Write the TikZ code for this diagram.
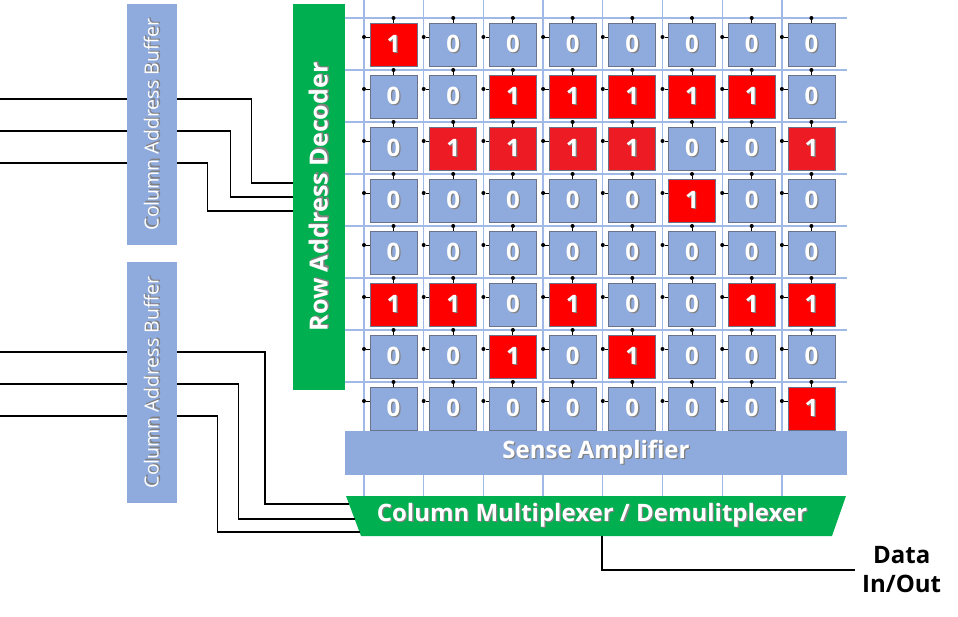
\documentclass[tikz,border=0pt]{standalone}
\usepackage{fontspec}
\setmainfont{Open Sans}
\usetikzlibrary{positioning, calc}
\definecolor{cellblue}{RGB}{143,170,220}
\definecolor{gridblue}{RGB}{160,185,230}
\definecolor{decgreen}{RGB}{0,176,80}
\definecolor{rim}{RGB}{105,115,140}
\colorlet{v0}{cellblue}
\definecolor{v1}{RGB}{255,0,0}
\definecolor{v2}{RGB}{237,28,36}
% white text with a soft dark drop shadow
\newcommand\sh[1]{\makebox[0pt][l]{\hspace{1.3pt}\raisebox{-1.3pt}{\textcolor{black!50}{#1}}}#1}

\begin{document}
\begin{tikzpicture}[x=1pt, y=-1pt, >=latex,
    c/.style={draw=rim, line width=0.7pt, minimum width=47pt, minimum height=43pt,
        inner sep=0pt, text=white, font=\fontsize{24}{24}\selectfont\bfseries},
    dot/.style={circle, fill=black, inner sep=0pt, minimum size=4pt},
    buf/.style={fill=cellblue, minimum width=50pt, minimum height=241pt, inner sep=0pt,
        text=white, font=\fontsize{19.5}{19.5}\selectfont},
    dec/.style={fill=decgreen, minimum width=52pt, minimum height=386pt, inner sep=0pt,
        text=white, font=\fontsize{25}{25}\selectfont\bfseries},
    wire/.style={line width=1.2pt}]
    \useasboundingbox (0,0) rectangle (958,617);

    % grid of word and bit lines
    \foreach \i in {0,...,7}
        \draw[gridblue, line width=1.3pt] ({364+59.7*\i},0) -- ({364+59.7*\i},496);
    \foreach \j in {0,...,7}
        \draw[gridblue, line width=1.3pt] (345,{18+52*\j}) -- (847,{18+52*\j});

    % memory cells
    \foreach \row [count=\j from 0] in {{1,0,0,0,0,0,0,0},{0,0,1,1,1,1,1,0},
            {0,2,2,2,2,0,0,2},{0,0,0,0,0,1,0,0},{0,0,0,0,0,0,0,0},
            {1,1,0,1,0,0,1,1},{0,0,1,0,1,0,0,0},{0,0,0,0,0,0,0,1}}
        \foreach \v [count=\i from 0] in \row {
            \pgfmathtruncatemacro\bit{min(\v,1)}
            \node[c, fill=v\v] (m-\i-\j) at ({364+59.7*\i+29.5},{18+52*\j+26.5})
                {\sh{\bit}};
            \node[dot] (t-\i-\j) at ({364+59.7*\i+29.5},{18+52*\j}) {};
            \node[dot] (l-\i-\j) at ({364+59.7*\i},{18+52*\j+19}) {};
            \draw[line width=0.9pt] (t-\i-\j) -- (m-\i-\j.north);
            \draw[line width=0.9pt] (l-\i-\j) -- (l-\i-\j -| m-\i-\j.west);
        }

    \node[fill=cellblue, minimum width=502pt, minimum height=44pt, inner sep=0pt,
        text=white, font=\fontsize{24}{24}\selectfont\bfseries] (sa) at (596,453)
        {\sh{Sense\ Amplifier}};

    % column multiplexer
    \coordinate (mtl) at (346,496);
    \coordinate (mtr) at (846,496);
    \coordinate (mbr) at (832,536);
    \coordinate (mbl) at (361,536);
    \fill[decgreen] (mtl) -- (mtr) -- (mbr) -- (mbl) -- cycle;
    \node[text=white, font=\fontsize{24}{24}\selectfont\bfseries] (mux) at (592,516)
        {\sh{Column\ Multiplexer / Demulitplexer}};
    \coordinate (m1) at ($(mtl)!0.2!(mbl)$);
    \coordinate (m2) at ($(mtl)!0.575!(mbl)$);
    \coordinate (m3) at ($(mtl)!0.9!(mbl)$);
    \coordinate (mo) at (602,536);

    % address inputs
    \coordinate (a1) at (0,99);
    \coordinate (a2) at (0,131);
    \coordinate (a3) at (0,163);
    \coordinate (b1) at (0,352);
    \coordinate (b2) at (0,384);
    \coordinate (b3) at (0,416);

    \node[dec] (rad) at (319,197) {\rotatebox{90}{\sh{Row\ Address\ Decoder}}};
    \coordinate (d1) at ($(rad.west)+(0,-14)$);
    \coordinate (d2) at (rad.west);
    \coordinate (d3) at ($(rad.west)+(0,14)$);

    \draw[wire] (a1) -| ([xshift=-41pt]d1) -- (d1);
    \draw[wire] (a2) -| ([xshift=-62pt]d2) -- (d2);
    \draw[wire] (a3) -| ([xshift=-85pt]d3) -- (d3);
    \draw[wire] (b1) -| ([xshift=-84pt]m1) -- (m1);
    \draw[wire] (b2) -| ([xshift=-116pt]m2) -- (m2);
    \draw[wire] (b3) -| ([xshift=-142pt]m3) -- (m3);

    \node[buf] (cab1) at (152,124.5) {\rotatebox{90}{\sh{Column\ Address\ Buffer}}};
    \node[buf] (cab2) at (152,382.5) {\rotatebox{90}{\sh{Column\ Address\ Buffer}}};

    % data path
    \node[anchor=west, align=center, inner sep=7pt,
        font=\fontsize{24}{29}\selectfont\bfseries] (dio) at (855,570) {Data\\In/Out};
    \draw[wire] (mo) |- (dio.west);
\end{tikzpicture}
\end{document}
